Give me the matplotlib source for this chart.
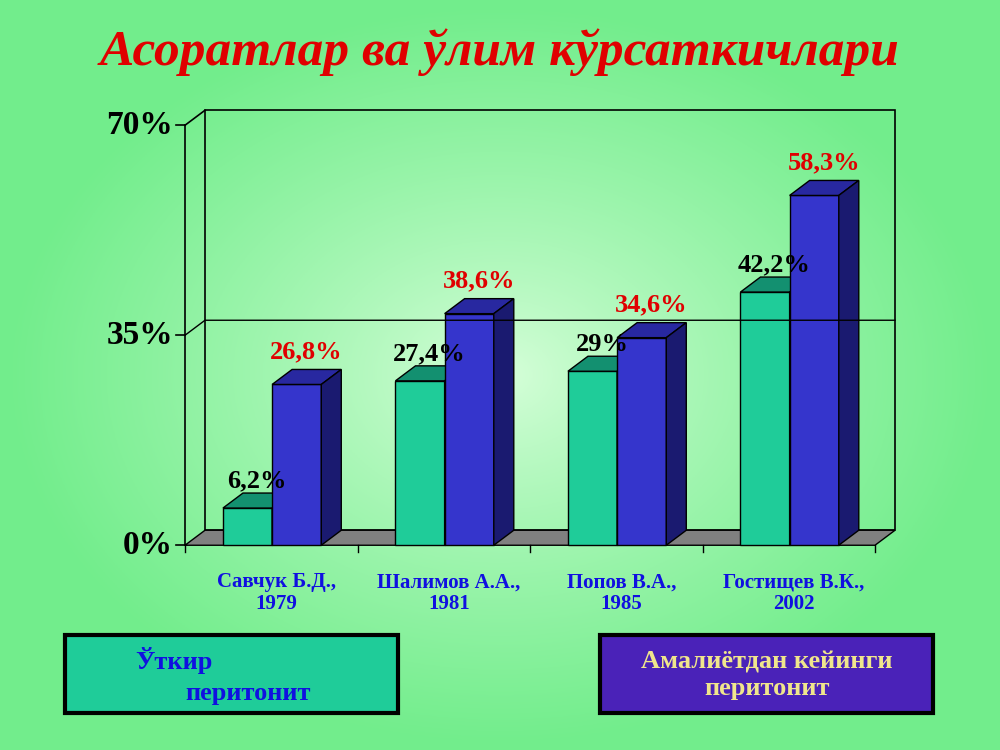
import numpy as np
import matplotlib
matplotlib.use("Agg")
import matplotlib.pyplot as plt
from matplotlib.patches import Polygon, Rectangle

plt.rcParams['font.family'] = ['Liberation Serif', 'DejaVu Serif']

authors = ["Савчук Б.Д.,\n1979", "Шалимов А.А.,\n1981", "Попов В.А.,\n1985", "Гостищев В.К.,\n2002"]
acute = [6.2, 27.4, 29.0, 42.2]
postop = [26.8, 38.6, 34.6, 58.3]
acute_lbl = ["6,2%", "27,4%", "29%", "42,2%"]
postop_lbl = ["26,8%", "38,6%", "34,6%", "58,3%"]
yticks = [0, 35, 70]

fig = plt.figure(figsize=(10, 7.5), dpi=100)

# background gradient
bg = fig.add_axes([0, 0, 1, 1])
yy, xx = np.mgrid[0:1:300j, 0:1:400j]
r = np.sqrt(((xx - 0.5) / 0.7) ** 2 + ((yy - 0.5) / 0.7) ** 2)
c0 = np.array([0.85, 1.0, 0.86])
c1 = np.array([0.45, 0.93, 0.55])
t = np.clip(r / 0.7, 0, 1)[..., None] ** 0.8
bg.imshow(c0 * (1 - t) + c1 * t, aspect='auto', extent=[0, 1, 0, 1])
bg.axis('off')

fig.text(0.5, 0.93, "Асоратлар ва ўлим кўрсаткичлари", color='#E00000',
         fontsize=37, fontweight='bold', style='italic', ha='center', va='center')

ax = fig.add_axes([0.185, 0.273, 0.69, 0.56])
ax.set_xlim(0, 4)
ax.set_ylim(0, 70)
ax.axis('off')
dx, dy = 0.116, 2.5
w = 0.285

# back wall, side wall, floor
ax.add_patch(Polygon([(dx, dy), (4 + dx, dy), (4 + dx, 70 + dy), (dx, 70 + dy)],
                     closed=True, fill=False, ec='black', lw=1.2, clip_on=False))
ax.plot([0, 0], [0, 70], color='black', lw=1.2, clip_on=False)
ax.plot([0, dx], [70, 70 + dy], color='black', lw=1.2, clip_on=False)
ax.plot([0, dx, 4 + dx], [35, 35 + dy, 35 + dy], color='black', lw=1, clip_on=False)
ax.add_patch(Polygon([(0, 0), (4, 0), (4 + dx, dy), (dx, dy)], closed=True,
                     fc='#808080', ec='black', lw=1, clip_on=False))
for yt in yticks:
    ax.plot([-0.05, 0], [yt, yt], color='black', lw=1.2, clip_on=False)
    ax.text(-0.07, yt, f"{yt}%", ha='right', va='center', fontsize=24, fontweight='bold')
for i in range(5):
    ax.plot([i, i], [0, -1.2], color='black', lw=1, clip_on=False)


def bar3d(x0, h, front, top, side):
    ax.add_patch(Rectangle((x0, 0), w, h, fc=front, ec='black', lw=1, clip_on=False))
    ax.add_patch(Polygon([(x0, h), (x0 + w, h), (x0 + w + dx, h + dy), (x0 + dx, h + dy)],
                         closed=True, fc=top, ec='black', lw=1, clip_on=False))
    ax.add_patch(Polygon([(x0 + w, 0), (x0 + w + dx, dy), (x0 + w + dx, h + dy), (x0 + w, h)],
                         closed=True, fc=side, ec='black', lw=1, clip_on=False))


for i in range(4):
    c = i + 0.5
    bar3d(c - w + 0.005, acute[i], '#1FCC99', '#139070', '#0E6B55')
    bar3d(c + 0.005, postop[i], '#3535CC', '#2828A0', '#1A1A70')
    ax.text(c - w / 2 + 0.06, acute[i] + 4.5, acute_lbl[i], ha='center', va='center',
            fontsize=19, fontweight='bold', color='black')
    ax.text(c + w / 2 + 0.06, postop[i] + 5.5, postop_lbl[i], ha='center', va='center',
            fontsize=19, fontweight='bold', color='#E00000')
    ax.text(c + 0.03, -4.5, authors[i], ha='center', va='top', fontsize=15,
            fontweight='bold', color='#1010E0', linespacing=1.1)

# legend boxes
fig.patches.append(Rectangle((0.065, 0.05), 0.333, 0.103, transform=fig.transFigure,
                             fc='#1FCC99', ec='black', lw=3))
fig.text(0.135, 0.12, "Ўткир", color='#1010E0', fontsize=19, fontweight='bold', va='center')
fig.text(0.185, 0.075, "перитонит", color='#1010E0', fontsize=19, fontweight='bold', va='center')
fig.patches.append(Rectangle((0.6, 0.05), 0.333, 0.103, transform=fig.transFigure,
                             fc='#4A22B8', ec='black', lw=3))
fig.text(0.767, 0.1, "Амалиётдан кейинги\nперитонит", color='#F0E68C', fontsize=19,
         fontweight='bold', ha='center', va='center', linespacing=1.2)

fig.savefig("out.png", dpi=100)
